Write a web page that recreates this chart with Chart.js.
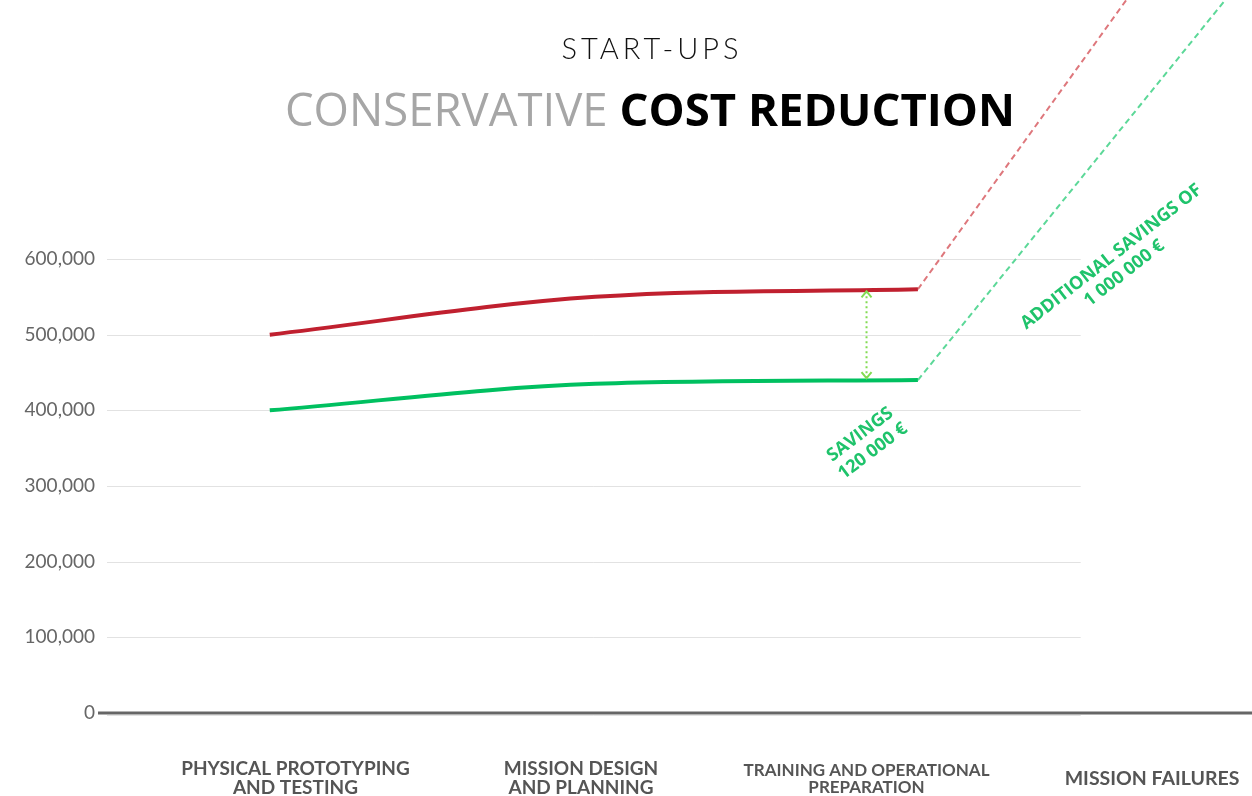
<!DOCTYPE html>
<html>
<head>
<meta charset="utf-8">
<script src="https://cdn.jsdelivr.net/npm/chart.js@4/dist/chart.umd.min.js"></script>
<style>
	html, body { margin: 0; padding: 0; background: #fff; }
	canvas { display: block; }
</style>
</head>
<body>
<canvas id="costChart" width="1252" height="796"></canvas>
<script>
// --- Data ---
const categories = [
	['PHYSICAL PROTOTYPING', 'AND TESTING'],
	['MISSION DESIGN', 'AND PLANNING'],
	['TRAINING AND OPERATIONAL', 'PREPARATION'],
	'MISSION FAILURES'
];
const categoryPos = [0, 1, 2, 3];
const categoryFontSize = [19, 19, 17, 19.5];

// solid part (x in category units)
const phaseX = [-0.09, 1.05, 2.18];
const currentCost = [500000, 550000, 560000];
const reducedCost = [400000, 435000, 440000];

// dashed part, runs off the top of the chart
const currentFailX = [2.18, 3.02];
const currentFail = [560000, 1000000];
const reducedFailX = [2.18, 3.38];
const reducedFail = [440000, 1000000];

const yTicks = [0, 100000, 200000, 300000, 400000, 500000, 600000];

// annotations
const savingsArrow = { x: 2.0, from: 560000, to: 440000 };
const notes = [
	{ x: 2.0, y: 357000, angle: -37, lines: ['SAVINGS', '120 000 €'] },
	{ x: 2.88, y: 592000, angle: -38, lines: ['ADDITIONAL SAVINGS OF', '1 000 000 €'] }
];

const GRID_END = 2.75;
const GREEN_TEXT = '#1fc36b';

const toPoints = (xs, ys) => xs.map((x, i) => ({ x, y: ys[i] }));

// --- Plugins ---
const gridPlugin = {
	id: 'shortGrid',
	beforeDatasetsDraw(chart) {
		const { ctx, scales: { x, y } } = chart;
		const x0 = chart.chartArea.left;
		const x1 = x.getPixelForValue(GRID_END);
		ctx.save();
		ctx.strokeStyle = '#e2e2e2';
		ctx.lineWidth = 1;
		yTicks.forEach(v => {
			const py = Math.round(y.getPixelForValue(v)) + 0.5 + (v === 0 ? 2 : 0);
			ctx.beginPath();
			ctx.moveTo(x0, py);
			ctx.lineTo(x1, py);
			ctx.stroke();
		});
		ctx.restore();
	},
	afterDatasetsDraw(chart) {
		const { ctx, scales: { x, y } } = chart;
		ctx.save();
		// zero axis line
		const py = y.getPixelForValue(0);
		ctx.strokeStyle = '#666';
		ctx.lineWidth = 3;
		ctx.beginPath();
		ctx.moveTo(chart.chartArea.left - 9, py);
		ctx.lineTo(chart.width, py);
		ctx.stroke();

		// savings double arrow
		const ax = x.getPixelForValue(savingsArrow.x);
		const ay0 = y.getPixelForValue(savingsArrow.from) + 2;
		const ay1 = y.getPixelForValue(savingsArrow.to) - 2;
		ctx.strokeStyle = '#82db52';
		ctx.lineWidth = 2;
		ctx.setLineDash([2, 3]);
		ctx.beginPath();
		ctx.moveTo(ax, ay0);
		ctx.lineTo(ax, ay1);
		ctx.stroke();
		ctx.setLineDash([]);
		ctx.beginPath();
		ctx.moveTo(ax - 5, ay0 + 6); ctx.lineTo(ax, ay0); ctx.lineTo(ax + 5, ay0 + 6);
		ctx.moveTo(ax - 5, ay1 - 6); ctx.lineTo(ax, ay1); ctx.lineTo(ax + 5, ay1 - 6);
		ctx.stroke();

		// rotated notes
		ctx.fillStyle = GREEN_TEXT;
		ctx.font = 'bold 18px "Open Sans"';
		ctx.textAlign = 'center';
		ctx.textBaseline = 'middle';
		notes.forEach(n => {
			ctx.save();
			ctx.translate(x.getPixelForValue(n.x), y.getPixelForValue(n.y));
			ctx.rotate(n.angle * Math.PI / 180);
			const lh = 21;
			n.lines.forEach((t, i) => {
				ctx.fillText(t, 0, (i - (n.lines.length - 1) / 2) * lh);
			});
			ctx.restore();
		});
		ctx.restore();
	},
	afterDraw(chart) {
		const { ctx } = chart;
		const cx = 650;
		ctx.save();
		ctx.textBaseline = 'middle';
		ctx.textAlign = 'left';

		// small heading
		ctx.font = '300 29px Lato';
		ctx.letterSpacing = '4px';
		ctx.fillStyle = '#111';
		const small = 'START-UPS';
		const sw = ctx.measureText(small).width - 4;
		ctx.fillText(small, cx - sw / 2, 50);
		ctx.letterSpacing = '0px';

		// main title, two weights
		const p1 = 'CONSERVATIVE ';
		const p2 = 'COST REDUCTION';
		const size = 45.5;
		ctx.font = `400 ${size}px "Open Sans"`;
		const w1 = ctx.measureText(p1).width;
		ctx.font = `700 ${size}px "Open Sans"`;
		const w2 = ctx.measureText(p2).width;
		const startX = cx - (w1 + w2) / 2;
		ctx.font = `400 ${size}px "Open Sans"`;
		ctx.fillStyle = '#a6a6a6';
		ctx.fillText(p1, startX, 113);
		ctx.font = `700 ${size}px "Open Sans"`;
		ctx.fillStyle = '#000';
		ctx.fillText(p2, startX + w1, 113);
		ctx.restore();
	}
};

// --- Chart ---
new Chart(document.getElementById('costChart'), {
	type: 'line',
	data: {
		datasets: [
			{
				label: 'Current',
				data: toPoints(phaseX, currentCost),
				borderColor: '#c0202f',
				borderWidth: 4,
				cubicInterpolationMode: 'monotone',
				pointRadius: 0
			},
			{
				label: 'Reduced',
				data: toPoints(phaseX, reducedCost),
				borderColor: '#00c060',
				borderWidth: 4,
				cubicInterpolationMode: 'monotone',
				pointRadius: 0
			},
			{
				label: 'Current failures',
				data: toPoints(currentFailX, currentFail),
				borderColor: '#de777c',
				borderWidth: 2,
				borderDash: [6, 4],
				pointRadius: 0,
				clip: false
			},
			{
				label: 'Reduced failures',
				data: toPoints(reducedFailX, reducedFail),
				borderColor: '#5cd898',
				borderWidth: 2,
				borderDash: [6, 4],
				pointRadius: 0,
				clip: false
			}
		]
	},
	options: {
		responsive: false,
		animation: false,
		layout: { padding: { top: 259, left: 0, right: 0, bottom: 0 } },
		plugins: {
			legend: { display: false },
			tooltip: { enabled: false },
			title: { display: false }
		},
		scales: {
			x: {
				type: 'linear',
				min: -0.66,
				max: 3.35,
				grid: { display: false, drawTicks: false },
				border: { display: false },
				afterFit: s => {
					s.height = 83;
					s.paddingLeft = 0;
					s.paddingRight = 0;
				},
				afterBuildTicks: s => { s.ticks = categoryPos.map(v => ({ value: v })); },
				ticks: {
					padding: 56,
					autoSkip: false,
					maxRotation: 0,
					crossAlign: 'center',
					color: '#555',
					font: ctx => ({
						family: 'Lato',
						size: categoryFontSize[ctx.index] || 19,
						weight: 'bold',
						lineHeight: 1.0
					}),
					callback: v => categories[categoryPos.indexOf(v)]
				}
			},
			y: {
				min: 0,
				max: 600000,
				grid: { display: false, drawTicks: false },
				border: { display: false },
				afterFit: s => {
					s.width = 107;
					s.paddingTop = 0;
					s.paddingBottom = 0;
				},
				ticks: {
					stepSize: 100000,
					padding: 12,
					color: '#666',
					font: { family: 'Lato', size: 19 },
					callback: v => v.toLocaleString('en-US')
				}
			}
		}
	},
	plugins: [gridPlugin]
});
</script>
</body>
</html>
